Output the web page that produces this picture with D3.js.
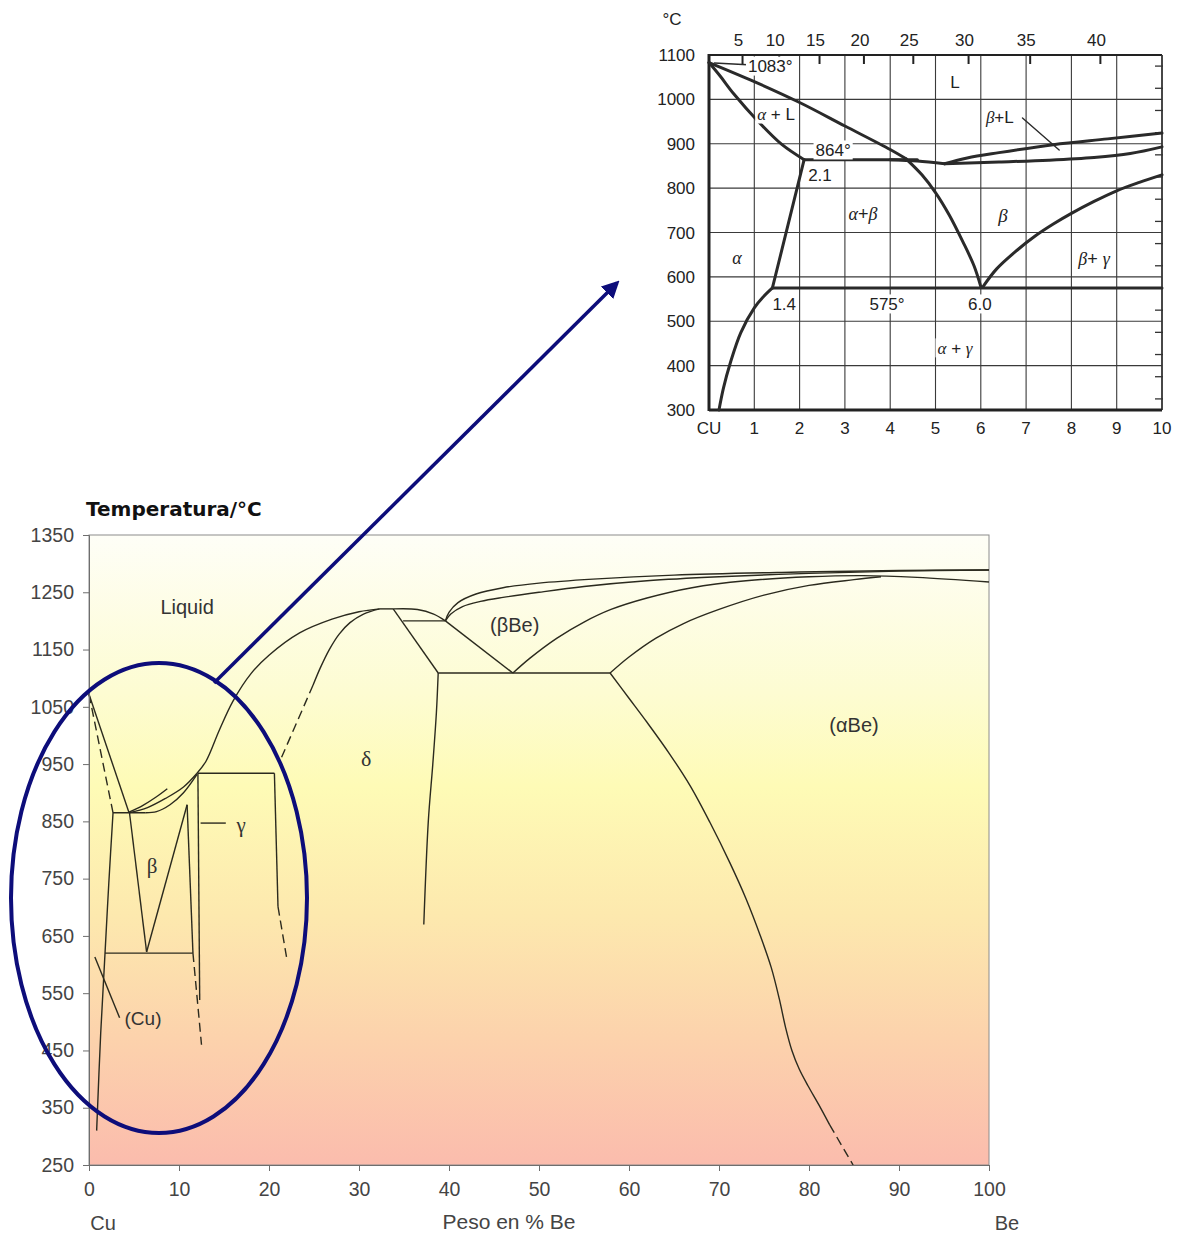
<!DOCTYPE html>
<html><head><meta charset="utf-8">
<script src="https://cdn.jsdelivr.net/npm/d3@7"></script>
<style>body{margin:0;background:#fff}</style>
</head><body>
<svg id="c" width="1184" height="1235"></svg>
<script>
// ---------- MAIN DIAGRAM DATA (x = wt% Be, y = °C) ----------
const xTicksMain = [0,10,20,30,40,50,60,70,80,90,100];
const yTicksMain = [250,350,450,550,650,750,850,950,1050,1150,1250,1350];

const cuLiquidus      = [[0,1072],[4.45,865]];
const cuSolidus       = [[0,1072],[2.67,865]];
const peritectic865   = [[2.67,865],[6.3,865]];
const betaLiqShort    = [[4.45,866],[6,878],[7.5,893],[8.7,907]];
const betaLiquidus    = [[4.45,865],[6.5,874],[8.5,890],[10.5,910],[12,934]];
const betaSolidus     = [[6.3,865],[7.5,867],[9,879],[10.5,900],[12,932]];
const deltaLiquidusL  = [[12,934],[13,955],[14.5,1010],[16,1060],[18,1108],[20,1140],[23.4,1179],[27,1203],[30,1216],[32.3,1221]];
const deltaTop        = [[32.3,1221],[33.8,1221]];
const deltaLiquidusR  = [[33.8,1221],[36.5,1220],[38.3,1212],[39.6,1200]];
const deltaSolidusL   = [[32.3,1221],[30.5,1212],[29,1197],[27.8,1177],[26.7,1150],[25.7,1118],[24.9,1088]];
const deltaSolidusLd  = [[24.9,1088],[21.4,962]];
const gammaTop        = [[12.1,934],[20.6,934]];
const gammaRight      = [[20.6,934],[21.0,701]];
const gammaRightD     = [[21.0,701],[22.0,608]];
const gammaLeft       = [[12.1,934],[12.3,538]];
const gammaLeader     = [[12.4,847],[15.2,847]];
const betaLeft        = [[4.5,865],[6.4,622]];
const betaRightA      = [[6.4,622],[10.9,879]];
const betaRightB      = [[10.9,879],[11.55,620]];
const eutectoid620    = [[1.78,620],[11.55,620]];
const betaRightD      = [[11.55,620],[12.5,460]];
const cuSolvus        = [[2.67,865],[2.2,742],[1.78,620],[1.3,480],[0.85,310]];
const cuLeader        = [[0.65,613],[3.4,507]];
const deltaRight      = [[33.8,1221],[38.8,1109]];
const deltaRightLow   = [[38.8,1109],[38.6,1040],[38.2,950],[37.7,850],[37.2,670]];
const iso1200         = [[34.9,1200],[39.6,1200]];
const betaBeLeft      = [[39.6,1200],[47.1,1109]];
const iso1109         = [[38.8,1109],[57.9,1109]];
const alphaBeSolvus   = [[57.9,1109],[60,1065],[62,1023],[64.5,968],[66.8,912],[69,848],[71.2,778],[73,715],[74.6,650],[75.8,595],[76.7,540],[77.4,490],[78.1,450],[78.9,418],[79.9,388],[81.1,355],[82.3,320]];
const alphaBeSolvusD  = [[82.3,320],[84.9,250]];
const beLiquidus      = [[39.6,1200],[40,1215],[41,1232],[43,1247],[46,1258],[50,1266],[56,1273],[65,1280],[78,1285],[90,1288],[100,1289]];
const beSolidus       = [[39.6,1200],[40.2,1212],[41.5,1225],[43.5,1234],[46,1241],[50,1250],[55,1260],[62,1270],[70,1277],[80,1283],[90,1287],[100,1289]];
const betaBeLower     = [[47.1,1109],[49,1135],[52,1170],[55,1198],[58,1220],[62,1240],[67,1258],[73,1270],[80,1277],[86,1279],[92,1276],[100,1268]];
const alphaBeUpper    = [[57.9,1109],[60,1137],[63,1170],[66,1195],[70,1220],[75,1245],[80,1262],[85,1272],[88,1277]];

// ---------- INSET DATA (x = wt% Be, y = °C) ----------
const insetXTicks = [0,1,2,3,4,5,6,7,8,9,10];
const insetXLabels = ['CU','1','2','3','4','5','6','7','8','9','10'];
const insetYTicks = [300,400,500,600,700,800,900,1000,1100];
const insetTopPos = [0.74,1.55,2.44,3.42,4.51,5.73,7.09,8.64];
const insetTopLabels = ['5','10','15','20','25','30','35','40'];

const iLiquidus   = [[0,1083],[1,1040],[2,993],[3,940],[4,887],[4.35,866]];
const iSolidus    = [[0,1083],[0.25,1052],[0.55,1012],[1.07,952],[1.6,899],[2.1,864]];
const iPeritectic = [[2.1,864],[4.6,864]];
const iBetaDip    = [[4.0,864],[4.6,861],[5.2,855]];
const iBetaLiq    = [[5.2,855],[5.7,868],[6.4,880],[7.6,898],[8.8,911],[10,924]];
const iBetaSol    = [[5.2,855],[6.4,859],[7.5,863],[8.5,869],[9.3,878],[10,893]];
const iBetaLeft   = [[4.35,866],[4.7,830],[5.0,790],[5.3,740],[5.6,680],[5.85,625],[6.0,578]];
const iBetaRight  = [[6.05,578],[6.35,618],[6.8,660],[7.2,692],[7.6,719],[8.0,743],[8.5,770],[9.0,794],[9.5,813],[10,830]];
const iEut575     = [[1.4,575],[10,575]];
const iAlphaSolv  = [[2.1,864],[1.4,575]];
const iAlphaLow   = [[1.4,575],[1.2,555],[1.0,530],[0.7,474],[0.47,406],[0.32,350],[0.22,300]];
const i1083Leader = [[0.12,1082],[0.85,1078]];
const iBLLeader   = [[6.92,958],[7.73,886]];

// ---------- DRAW ----------
const svg = d3.select('#c');
const x = d3.scaleLinear().domain([0,100]).range([89,989]);
const y = d3.scaleLinear().domain([250,1350]).range([1165,535]);

const defs = svg.append('defs');
const grad = defs.append('linearGradient').attr('id','bg').attr('x1',0).attr('y1',0).attr('x2',0).attr('y2',1);
[['0%','#fefef7'],['25%','#fdfcd2'],['40%','#fefbb6'],['60%','#fde9ae'],['80%','#fcd2ac'],['100%','#fbbcad']]
  .forEach(([o,c])=>grad.append('stop').attr('offset',o).attr('stop-color',c));

svg.append('rect').attr('x',x(0)).attr('y',y(1350)).attr('width',x(100)-x(0)).attr('height',y(250)-y(1350))
  .attr('fill','url(#bg)').attr('stroke','#8c8c8c').attr('stroke-width',1);

const main = svg.append('g');
const lineM = d3.line().x(d=>x(d[0])).y(d=>y(d[1])).curve(d3.curveCatmullRom.alpha(0.5));
function mDraw(pts, dashed){
  main.append('path').attr('d',lineM(pts)).attr('fill','none').attr('stroke','#2b2a1e')
    .attr('stroke-width',1.4).attr('stroke-dasharray',dashed?'9,5':null);
}
[cuLiquidus,peritectic865,betaLiqShort,betaLiquidus,betaSolidus,deltaLiquidusL,deltaTop,deltaLiquidusR,
 deltaSolidusL,gammaTop,gammaRight,gammaLeft,gammaLeader,betaLeft,betaRightA,betaRightB,eutectoid620,
 cuSolvus,cuLeader,deltaRight,deltaRightLow,iso1200,betaBeLeft,iso1109,alphaBeSolvus,beLiquidus,beSolidus,
 betaBeLower,alphaBeUpper].forEach(p=>mDraw(p,false));
[cuSolidus,deltaSolidusLd,gammaRightD,betaRightD,alphaBeSolvusD].forEach(p=>mDraw(p,true));

// axes
const ax = svg.append('g').attr('transform',`translate(0,${y(250)})`)
  .call(d3.axisBottom(x).tickValues(xTicksMain).tickSize(6).tickPadding(11).tickFormat(d3.format('d')));
const ay = svg.append('g').attr('transform',`translate(${x(0)},0)`)
  .call(d3.axisLeft(y).tickValues(yTicksMain).tickSize(6).tickPadding(9).tickFormat(d3.format('d')));
[ax,ay].forEach(a=>{
  a.selectAll('path,line').attr('stroke','#6e6e6e');
  a.selectAll('text').attr('font-family','Liberation Sans').attr('font-size',19.5).attr('fill','#444');
});

function T(g, px, py, parts, o={}){
  const t = g.append('text').attr('x',px).attr('y',py).attr('text-anchor',o.anchor||'middle')
    .attr('dominant-baseline','central').attr('font-family',o.fam||'Liberation Sans')
    .attr('font-size',o.size||19).attr('fill',o.fill||'#333').attr('font-weight',o.weight||null);
  parts.forEach(p=>{
    if(typeof p==='string') t.append('tspan').text(p);
    else t.append('tspan').attr('font-family',p.fam||'Liberation Serif').attr('font-style',p.it?'italic':null)
      .attr('font-size',p.size||null).text(p.t);
  });
  if(o.bg){
    const b=t.node().getBBox();
    g.insert('rect',()=>t.node()).attr('x',b.x-2).attr('y',b.y).attr('width',b.width+4).attr('height',b.height).attr('fill','#fff');
  }
  return t;
}
const lab = svg.append('g');
T(lab, 86, 509, ['Temperatura/°C'], {anchor:'start', fam:'DejaVu Sans', weight:'bold', size:20, fill:'#111'});
T(lab, 509, 1221, ['Peso en % Be'], {size:21, fill:'#444'});
T(lab, 103, 1223, ['Cu'], {size:20, fill:'#444'});
T(lab, 1007, 1223, ['Be'], {size:20, fill:'#444'});
T(lab, x(10.9), y(1225), ['Liquid'], {size:20, fill:'#333'});
T(lab, x(47.3), y(1193), ['(βBe)'], {size:20, fill:'#333'});
T(lab, x(85), y(1018), ['(αBe)'], {size:20, fill:'#333'});
T(lab, x(6), y(507), ['(Cu)'], {size:19, fill:'#333'});
T(lab, x(30.8), y(960), [{t:'δ'}], {size:22, fill:'#333', fam:'Liberation Serif'});
T(lab, x(7), y(772), [{t:'β'}], {size:21, fill:'#333', fam:'Liberation Serif'});
T(lab, x(16.9), y(843), [{t:'γ'}], {size:21, fill:'#333', fam:'Liberation Serif'});

// ---------- INSET ----------
const ix = d3.scaleLinear().domain([0,10]).range([709,1162]);
const iy = d3.scaleLinear().domain([300,1100]).range([410,55]);
const ins = svg.append('g');
insetXTicks.slice(1,-1).forEach(v=>ins.append('line').attr('x1',ix(v)).attr('x2',ix(v)).attr('y1',iy(300)).attr('y2',iy(1100)).attr('stroke','#3a3a3a').attr('stroke-width',1.1));
insetYTicks.slice(1,-1).forEach(v=>ins.append('line').attr('x1',ix(0)).attr('x2',ix(10)).attr('y1',iy(v)).attr('y2',iy(v)).attr('stroke','#3a3a3a').attr('stroke-width',1.1));
d3.range(325,1100,50).forEach(v=>ins.append('line').attr('x1',ix(10)-7).attr('x2',ix(10)+1).attr('y1',iy(v)).attr('y2',iy(v)).attr('stroke','#333').attr('stroke-width',1.3));
insetTopPos.forEach(v=>ins.append('line').attr('x1',ix(v)).attr('x2',ix(v)).attr('y1',iy(1100)).attr('y2',iy(1100)+9).attr('stroke','#222').attr('stroke-width',2));
ins.append('line').attr('x1',ix(0)).attr('x2',ix(10)).attr('y1',iy(1100)).attr('y2',iy(1100)).attr('stroke','#222').attr('stroke-width',2.2);
ins.append('line').attr('x1',ix(10)).attr('x2',ix(10)).attr('y1',iy(1100)).attr('y2',iy(300)).attr('stroke','#333').attr('stroke-width',1.8);
ins.append('line').attr('x1',ix(0)).attr('x2',ix(10)).attr('y1',iy(300)).attr('y2',iy(300)).attr('stroke','#222').attr('stroke-width',2.8);
ins.append('line').attr('x1',ix(0)).attr('x2',ix(0)).attr('y1',iy(1100)-1).attr('y2',iy(300)+1).attr('stroke','#222').attr('stroke-width',3);

const insLab = svg.append('g');
T(insLab, ix(0.86), iy(1075), ['1083°'], {anchor:'start', size:17, bg:true, fill:'#222'});
T(insLab, ix(2.74), iy(886), ['864°'], {size:17, bg:true, fill:'#222'});
T(insLab, ix(2.45), iy(830), ['2.1'], {size:17, bg:true, fill:'#222'});
T(insLab, ix(1.66), iy(539), ['1.4'], {size:17, bg:true, fill:'#222'});
T(insLab, ix(3.93), iy(539), ['575°'], {size:17, bg:true, fill:'#222'});
T(insLab, ix(5.98), iy(539), ['6.0'], {size:17, bg:true, fill:'#222'});
T(insLab, ix(5.43), iy(1039), ['L'], {size:17, fill:'#222'});
T(insLab, ix(1.48), iy(967), [{t:'α',it:true},' + L'], {size:17, bg:true, fill:'#222'});
T(insLab, ix(6.42), iy(960), [{t:'β',it:true},'+L'], {size:17, bg:true, fill:'#222'});
T(insLab, ix(3.4), iy(742), [{t:'α',it:true},'+',{t:'β',it:true}], {size:18, bg:true, fill:'#222'});
T(insLab, ix(6.49), iy(740), [{t:'β',it:true}], {size:19, fill:'#222', fam:'Liberation Serif'});
T(insLab, ix(0.62), iy(643), [{t:'α',it:true}], {size:18, fill:'#222', fam:'Liberation Serif'});
T(insLab, ix(8.5), iy(641), [{t:'β',it:true},'+ ',{t:'γ',it:true}], {size:18, bg:true, fill:'#222'});
T(insLab, ix(5.43), iy(440), [{t:'α',it:true},' + ',{t:'γ',it:true}], {size:17, bg:true, fill:'#222'});

const lineI = d3.line().x(d=>ix(d[0])).y(d=>iy(d[1])).curve(d3.curveCatmullRom.alpha(0.5));
function iDraw(pts, w){
  ins.append('path').attr('d',lineI(pts)).attr('fill','none').attr('stroke','#2a2a2a')
    .attr('stroke-width',w).attr('stroke-linecap','round').attr('stroke-linejoin','round');
}
[iLiquidus,iSolidus,iPeritectic,iBetaDip,iBetaLiq,iBetaSol,iBetaLeft,iBetaRight,iEut575,iAlphaSolv,iAlphaLow].forEach(p=>iDraw(p,3));
[i1083Leader,iBLLeader].forEach(p=>iDraw(p,1.4));

insetYTicks.forEach(v=>T(insLab, 695, iy(v), [String(v)], {anchor:'end', size:17, fill:'#222'}));
insetXTicks.forEach((v,i)=>T(insLab, ix(v), 428, [insetXLabels[i]], {size:17, fill:'#222'}));
insetTopPos.forEach((v,i)=>T(insLab, ix(v)-4, 40, [insetTopLabels[i]], {size:17, fill:'#222'}));
T(insLab, 672, 19, ['°C'], {size:17, fill:'#222'});

// ---------- ELLIPSE & ARROW ----------
defs.append('marker').attr('id','ah').attr('viewBox','0 0 10 10').attr('refX',8).attr('refY',5)
  .attr('markerWidth',5).attr('markerHeight',5).attr('orient','auto')
  .append('path').attr('d','M0,0 L10,5 L0,10 z').attr('fill','#0d0d7a');
svg.append('ellipse').attr('cx',159).attr('cy',898).attr('rx',148).attr('ry',235)
  .attr('fill','none').attr('stroke','#0d0d7a').attr('stroke-width',4);
svg.append('line').attr('x1',214).attr('y1',683).attr('x2',617).attr('y2',283)
  .attr('stroke','#0d0d7a').attr('stroke-width',3.5).attr('marker-end','url(#ah)');
</script>
</body></html>
